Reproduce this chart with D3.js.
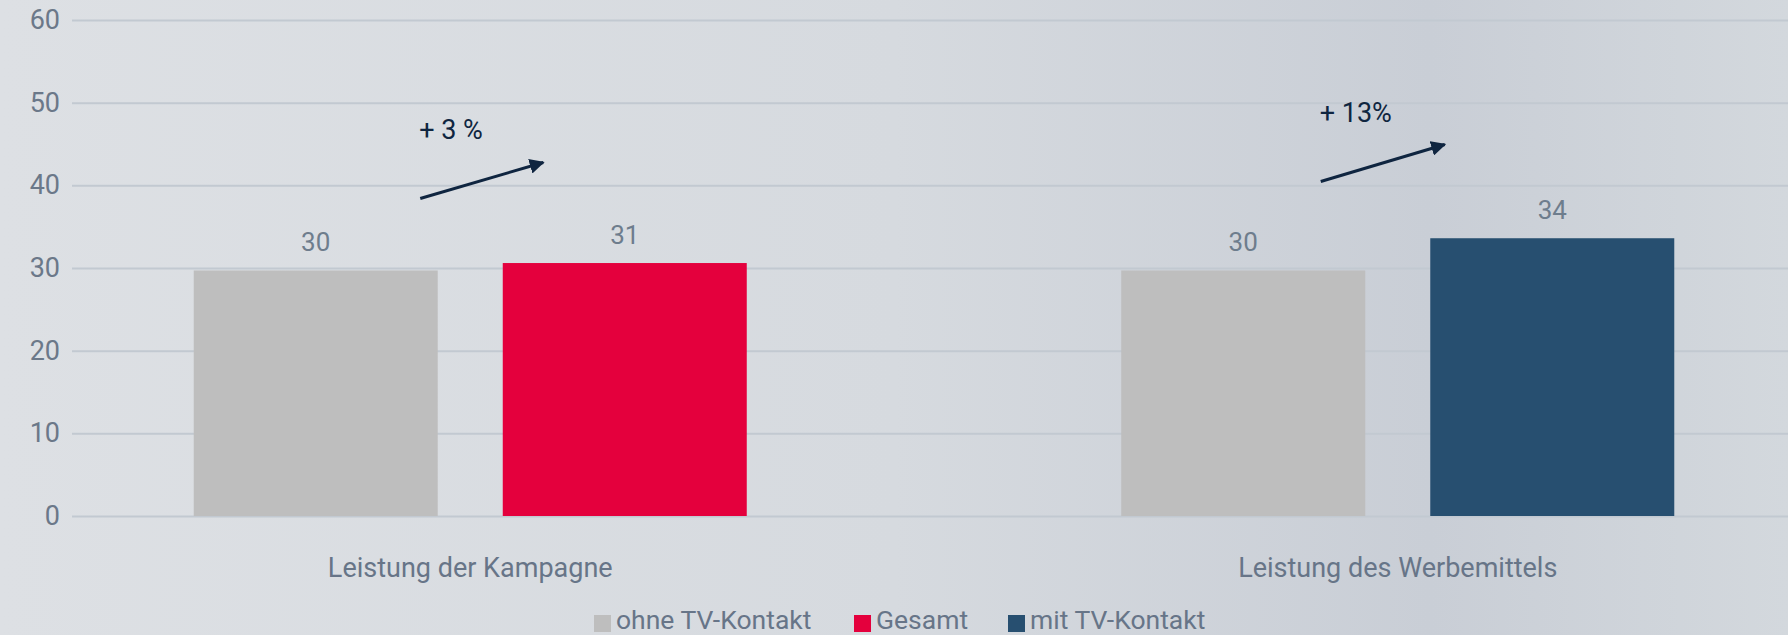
<!DOCTYPE html>
<html><head><meta charset="utf-8">
<script src="https://cdn.jsdelivr.net/npm/d3@7"></script>
<style>
html,body{margin:0;padding:0;overflow:hidden;}
svg{display:block;font-family:Roboto,"Noto Sans",sans-serif;}
</style></head>
<body>
<script>
// ---- data ----
const categories = ["Leistung der Kampagne", "Leistung des Werbemittels"];
const seriesNames = ["ohne TV-Kontakt", "Gesamt", "mit TV-Kontakt"];
const seriesColors = ["#bebebe", "#e4003d", "#274f70"];
const baseValues = [29.7, 29.7];          // ohne TV-Kontakt
const compareSeries = ["Gesamt", "mit TV-Kontakt"];
const compareValues = [30.6, 33.6];       // Gesamt / mit TV-Kontakt
const changeLabels = ["+ 3 %", "+ 13%"];
const yTicks = [0, 10, 20, 30, 40, 50, 60];

const W = 1788, H = 635;
const svg = d3.select("body").append("svg").attr("width", W).attr("height", H);

// background gradient
const defs = svg.append("defs");
const g = defs.append("linearGradient").attr("id","bg").attr("x1","0").attr("x2","1").attr("y1","0").attr("y2","0");
[[0,"#dde0e4"],[0.5,"#d6dadf"],[0.8,"#c9ced6"],[1,"#d3d8dd"]].forEach(s=>g.append("stop").attr("offset",s[0]).attr("stop-color",s[1]));
svg.append("rect").attr("width",W).attr("height",H).attr("fill","url(#bg)");

defs.append("marker").attr("id","arr").attr("viewBox","0 0 10 10").attr("refX",9).attr("refY",5)
  .attr("markerWidth",5).attr("markerHeight",5).attr("orient","auto")
  .append("path").attr("d","M0,0L10,5L0,10Z").attr("fill","#0f2540");

const plotL = 72, plotR = 1788, yTop = 20, yBot = 516;
const y = d3.scaleLinear().domain([0,60]).range([yBot, yTop]);
const x0 = d3.scaleBand().domain(categories).range([80, 1788]).paddingInner(0.3).paddingOuter(0.07075);
const x1 = d3.scaleBand().domain([0,1]).range([0, x0.bandwidth()]).paddingInner(0.2104).paddingOuter(0.1557);

// grid
const yAxis = d3.axisLeft(y).tickValues(yTicks).tickSize(-(plotR-plotL)).tickPadding(12);
const ga = svg.append("g").attr("transform",`translate(${plotL},0)`).call(yAxis);
ga.select(".domain").remove();
ga.selectAll(".tick line").attr("stroke","#c2c9d1").attr("stroke-width",2);
ga.selectAll(".tick text").attr("fill","#6b7889").attr("font-size",27).attr("font-family","Roboto");

// bars
const rows = categories.map((c,i)=>({cat:c, bars:[
  {slot:0, name:seriesNames[0], v:baseValues[i]},
  {slot:1, name:compareSeries[i], v:compareValues[i]}]}));
const grp = svg.selectAll(".grp").data(rows).join("g").attr("transform",d=>`translate(${x0(d.cat)},0)`);
grp.selectAll("rect").data(d=>d.bars).join("rect")
  .attr("x",d=>x1(d.slot)).attr("width",x1.bandwidth())
  .attr("y",d=>y(d.v)).attr("height",d=>y(0)-y(d.v))
  .attr("fill",d=>seriesColors[seriesNames.indexOf(d.name)]);
grp.selectAll("text.dl").data(d=>d.bars).join("text").attr("class","dl")
  .attr("x",d=>x1(d.slot)+x1.bandwidth()/2).attr("y",d=>y(d.v)-19)
  .attr("text-anchor","middle").attr("font-size",26).attr("fill","#6e7d8d")
  .text(d=>Math.round(d.v));

// category labels
svg.selectAll("text.cat").data(categories).join("text").attr("class","cat")
  .attr("x",d=>x0(d)+x0.bandwidth()/2).attr("y",577)
  .attr("text-anchor","middle").attr("font-size",27).attr("fill","#677588").text(d=>d);

// annotations: arrow + change label, placed above each group
const annoLayout = [
  {ax1:-50, ay1:-72, ax2:73, ay2:-108, tx:-51, ty:139},
  {ax1:-77, ay1:-89, ax2:47, ay2:-126, tx:-78, ty:122}
];
rows.forEach((r,i)=>{
  const cx = x0(r.cat) + x0.bandwidth()/2;
  const yb = y(r.bars[0].v);
  const L = annoLayout[i];
  svg.append("line").attr("x1",cx+L.ax1).attr("y1",yb+L.ay1).attr("x2",cx+L.ax2).attr("y2",yb+L.ay2)
    .attr("stroke","#0f2540").attr("stroke-width",3).attr("marker-end","url(#arr)");
  svg.append("text").attr("x",cx+L.tx).attr("y",L.ty)
    .attr("font-size",27).attr("fill","#0f2540").text(changeLabels[i]);
});

// legend
const legend = [{n:seriesNames[0],x:594},{n:seriesNames[1],x:854},{n:seriesNames[2],x:1008}];
const lg = svg.selectAll("g.lg").data(legend).join("g").attr("class","lg").attr("transform",d=>`translate(${d.x},0)`);
lg.append("rect").attr("x",0).attr("y",615).attr("width",17).attr("height",17)
  .attr("fill",d=>seriesColors[seriesNames.indexOf(d.n)]);
lg.append("text").attr("x",22).attr("y",629).attr("font-size",26.5).attr("fill","#677588").text(d=>d.n);
</script>
</body></html>
